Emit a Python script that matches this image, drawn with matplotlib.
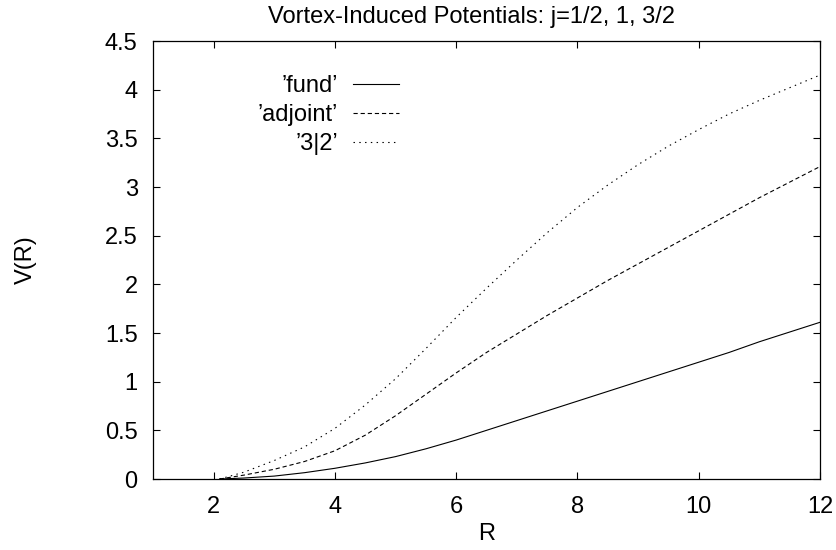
"""Vortex-induced potentials V(R) for j=1/2, 1, 3/2 (gnuplot-style replot)."""
import numpy as np
import matplotlib
matplotlib.use('Agg')
import matplotlib.pyplot as plt
from matplotlib.ticker import FormatStrFormatter, MultipleLocator

# values
R = [2.1, 2.5, 3.0, 3.5, 4.0, 4.5, 5.0, 5.5, 6.0, 6.5, 7.0, 7.5, 8.0, 8.5, 9.0, 9.5,
     10.0, 10.5, 11.0, 11.5, 12.0]
V_fund = [0.0, 0.01, 0.03, 0.065, 0.11, 0.165, 0.23, 0.31, 0.40, 0.50, 0.60, 0.70,
          0.80, 0.90, 1.00, 1.10, 1.20, 1.30, 1.41, 1.51, 1.61]
V_adjoint = [0.0, 0.04, 0.10, 0.18, 0.29, 0.45, 0.65, 0.87, 1.09, 1.30, 1.49, 1.68,
             1.86, 2.04, 2.21, 2.38, 2.55, 2.72, 2.89, 3.05, 3.21]
V_32 = [0.0, 0.07, 0.19, 0.33, 0.52, 0.76, 1.03, 1.34, 1.66, 1.96, 2.25, 2.53,
        2.79, 3.02, 3.23, 3.42, 3.59, 3.75, 3.89, 4.02, 4.15]
labels = ["\u2019fund\u2019", "\u2019adjoint\u2019", "\u20193|2\u2019"]

plt.rcParams['font.family'] = ['Liberation Sans', 'DejaVu Sans']
FS = 17

fig = plt.figure(figsize=(8.37, 5.5), dpi=100)
ax = fig.add_axes([153 / 837, 1 - 479 / 550, 667 / 837, 438 / 550])

lw = 0.8
ax.plot(R, V_fund, color='black', lw=lw, ls='-', label=labels[0])
ax.plot(R, V_adjoint, color='black', lw=lw, ls=(0, (3.8, 2.6)), label=labels[1])
ax.plot(R, V_32, color='black', lw=lw, ls=(0, (1.3, 3.9)), label=labels[2])

ax.set_xlim(1, 12)
ax.set_ylim(0, 4.5)
ax.yaxis.set_major_locator(MultipleLocator(0.5))
ax.yaxis.set_major_formatter(FormatStrFormatter('%g'))
ax.set_xticks([2, 4, 6, 8, 10, 12])
ax.tick_params(direction='in', length=5, width=0.8, top=True, right=True,
               labelsize=FS, pad=11)
ax.tick_params(axis='x', pad=12)
for s in ax.spines.values():
    s.set_linewidth(0.9)

ax.set_title('Vortex-Induced Potentials: j=1/2, 1, 3/2', fontsize=FS, pad=13, x=0.4775)
ax.set_xlabel('R', fontsize=FS, labelpad=4)
ax.set_ylabel('V(R)', fontsize=FS)
ax.yaxis.set_label_coords(-0.174, 0.5)

ax.legend(loc='upper right', bbox_to_anchor=(0.369, 0.922), frameon=False,
          markerfirst=False, fontsize=FS, handlelength=1.95, handletextpad=0.65,
          labelspacing=0.3, borderpad=0, borderaxespad=0)

fig.savefig('out.png', dpi=100)
